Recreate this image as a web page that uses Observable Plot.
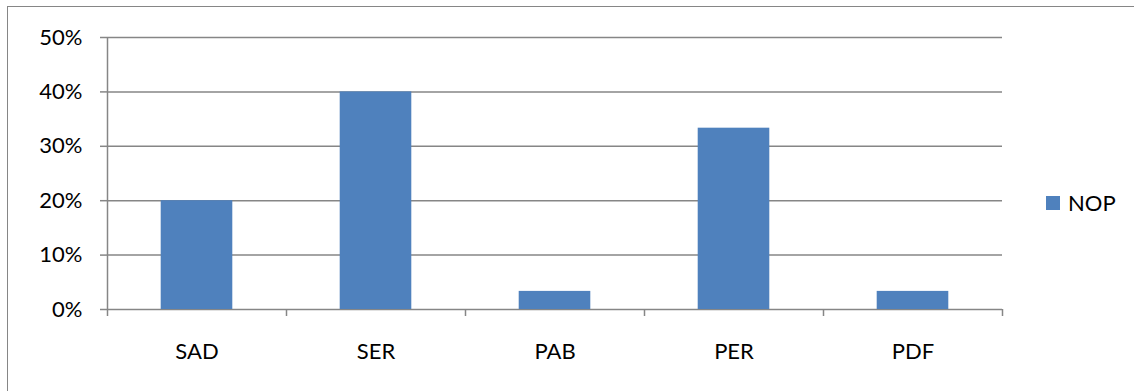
<!DOCTYPE html>
<html>
<head>
<meta charset="utf-8">
<script src="https://cdn.jsdelivr.net/npm/d3@7"></script>
<script src="https://cdn.jsdelivr.net/npm/@observablehq/plot@0.6"></script>
<style>
  html, body { margin: 0; padding: 0; background: #fff; overflow: hidden; }
  #wrap { position: relative; width: 1134px; height: 391px; }
  #frame { position: absolute; left: 7px; top: 6px; width: 1200px; height: 500px;
           border: 1.5px solid #868686; box-sizing: border-box; }
  #chart { position: absolute; left: 0; top: 0; }
  #legend { position: absolute; left: 1046px; top: 189px; display: flex; align-items: center;
            font-family: Lato, "Open Sans", sans-serif; font-size: 22px; color: #000; }
  #legend .sw { width: 14px; height: 14px; background: #4F81BD; margin-right: 8px; }
</style>
</head>
<body>
<div id="wrap">
  <div id="frame"></div>
  <div id="chart"></div>
  <div id="legend"><span class="sw"></span><span>NOP</span></div>
</div>
<script>
// Share of NOP per category
const categories = ["SAD", "SER", "PAB", "PER", "PDF"];
const nopValues = [0.20, 0.40, 0.0333, 0.3333, 0.0333];
const yTicks = [0, 0.1, 0.2, 0.3, 0.4, 0.5];

const data = categories.map((c, i) => ({i, category: c, value: nopValues[i]}));
const gridColor = "#868686";
const barColor = "#4F81BD";
const n = categories.length;

const chart = Plot.plot({
  width: 1134,
  height: 391,
  marginLeft: 107,
  marginRight: 132,
  marginTop: 37,
  marginBottom: 82,
  style: {fontFamily: "Lato, 'Open Sans', sans-serif", fontSize: "22px", color: "#000", background: "transparent"},
  x: {domain: [0, n]},
  y: {domain: [0, 0.5]},
  marks: [
    // horizontal gridlines
    Plot.ruleY(yTicks, {stroke: gridColor, strokeWidth: 1.5}),
    // vertical axis line
    Plot.ruleX([0], {stroke: gridColor, strokeWidth: 1.5}),
    // bars, each 40% of its category slot
    Plot.rectY(data, {x1: d => d.i + 0.3, x2: d => d.i + 0.7, y: "value", fill: barColor}),
    // y axis ticks and percentage labels
    Plot.axisY({ticks: yTicks, tickFormat: d3.format(".0%"), tickSize: 7, tickPadding: 18,
                stroke: gridColor, strokeWidth: 1.5, fontSize: 22, label: null}),
    // x axis tick marks between categories
    Plot.axisX({ticks: d3.range(n + 1), tickFormat: () => "", tickSize: 7,
                stroke: gridColor, strokeWidth: 1.5, label: null}),
    // category labels centred in each slot
    Plot.axisX({ticks: d3.range(n).map(i => i + 0.5), tickFormat: v => categories[Math.floor(v)],
                tickSize: 0, tickPadding: 34, fontSize: 22, label: null})
  ]
});
document.getElementById("chart").appendChild(chart);
</script>
</body>
</html>
